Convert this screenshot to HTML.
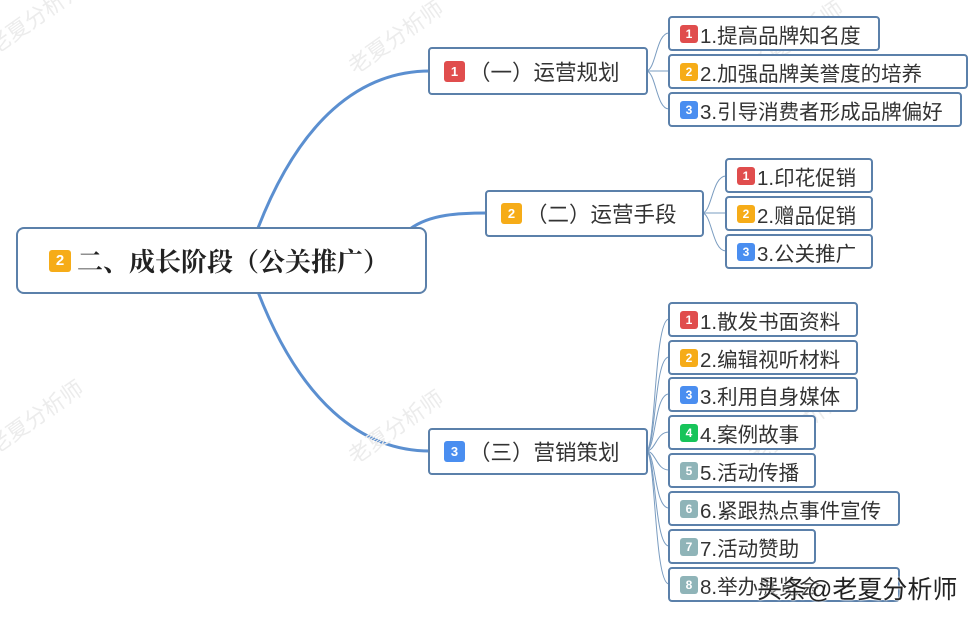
<!DOCTYPE html>
<html><head><meta charset="utf-8"><style>
body{margin:0;width:979px;height:619px;background:#fff;position:relative;overflow:hidden;font-family:"Liberation Sans","Noto Sans CJK SC",sans-serif;}
.b{position:absolute;box-sizing:border-box;border:2px solid #5b80aa;border-radius:4px;background:#fff;color:#333;display:flex;align-items:center;white-space:nowrap;}
.leaf{font-size:20.5px;padding-left:10px;}
.bd{display:inline-block;width:18px;height:18px;border-radius:3px;color:#fff;font-size:12px;font-weight:bold;text-align:center;line-height:18px;margin-right:2px;font-family:"Liberation Sans",sans-serif;}
.r{background:#e04d4d}.o{background:#f6ac18}.u{background:#4a8ef0}.g{background:#17c45a}.s{background:#8fb4b8}
.l1{font-size:21.5px;padding-left:14px;}
.l1 .bd{width:21px;height:21px;line-height:21px;font-size:13px;margin-right:4px;}
.wm{position:absolute;color:#ececec;font-size:22px;transform:rotate(-35deg);white-space:nowrap;}
</style></head><body>
<svg width="979" height="619" style="position:absolute;left:0;top:0">
<g fill="none" stroke="#5b8fd0">
<path d="M258 228 C300 120 360 71 430 71" stroke-width="3"/>
<path d="M410 229 C430 214 460 213 487 213" stroke-width="3"/>
<path d="M258 292 C300 400 360 451 430 451" stroke-width="3"/>
</g>
<g fill="none" stroke="#7a9cc0" stroke-width="1">
<path d="M646 71 C656 71 656 33 669 33"/><path d="M646 71 L669 71"/><path d="M646 71 C656 71 656 109 669 109"/>
<path d="M702 213 C712 213 712 176 726 176"/><path d="M702 213 L726 213"/><path d="M702 213 C712 213 712 251 726 251"/>
<path d="M646 451 C656 451 654 319 669 319"/><path d="M646 451 C656 451 654 357 669 357"/><path d="M646 451 C656 451 654 394 669 394"/><path d="M646 451 C656 451 656 432 669 432"/><path d="M646 451 C656 451 656 470 669 470"/><path d="M646 451 C656 451 654 508 669 508"/><path d="M646 451 C656 451 654 546 669 546"/><path d="M646 451 C656 451 654 584 669 584"/>
</g></svg>
<div class="wm" style="left:-20px;top:0px">老夏分析师</div>
<div class="wm" style="left:340px;top:20px">老夏分析师</div>
<div class="wm" style="left:740px;top:20px">老夏分析师</div>
<div class="wm" style="left:-20px;top:400px">老夏分析师</div>
<div class="wm" style="left:340px;top:410px">老夏分析师</div>
<div class="wm" style="left:740px;top:410px">老夏分析师</div>

<div class="b" style="left:16px;top:227px;width:411px;height:67px;padding-left:31px;font-size:26px;font-weight:bold;font-family:'Liberation Serif','Noto Serif CJK SC',serif;color:#222;border-radius:8px"><span class="bd o" style="width:22px;height:22px;line-height:22px;font-size:15px;margin-right:6px;font-family:'Liberation Sans',sans-serif">2</span>二、成长阶段（公关推广）</div>

<div class="b l1" style="left:428px;top:47px;width:220px;height:48px"><span class="bd r">1</span>（一）运营规划</div>
<div class="b l1" style="left:485px;top:190px;width:219px;height:47px"><span class="bd o">2</span>（二）运营手段</div>
<div class="b l1" style="left:428px;top:428px;width:220px;height:47px"><span class="bd u">3</span>（三）营销策划</div>

<div class="b leaf" style="left:668px;top:16px;width:212px;height:35px"><span class="bd r">1</span>1.提高品牌知名度</div>
<div class="b leaf" style="left:668px;top:54px;width:300px;height:35px"><span class="bd o">2</span>2.加强品牌美誉度的培养</div>
<div class="b leaf" style="left:668px;top:92px;width:294px;height:35px"><span class="bd u">3</span>3.引导消费者形成品牌偏好</div>

<div class="b leaf" style="left:725px;top:158px;width:148px;height:35px"><span class="bd r">1</span>1.印花促销</div>
<div class="b leaf" style="left:725px;top:196px;width:148px;height:35px"><span class="bd o">2</span>2.赠品促销</div>
<div class="b leaf" style="left:725px;top:234px;width:148px;height:35px"><span class="bd u">3</span>3.公关推广</div>

<div class="b leaf" style="left:668px;top:302px;width:190px;height:35px"><span class="bd r">1</span>1.散发书面资料</div>
<div class="b leaf" style="left:668px;top:340px;width:190px;height:35px"><span class="bd o">2</span>2.编辑视听材料</div>
<div class="b leaf" style="left:668px;top:377px;width:190px;height:35px"><span class="bd u">3</span>3.利用自身媒体</div>
<div class="b leaf" style="left:668px;top:415px;width:148px;height:35px"><span class="bd g">4</span>4.案例故事</div>
<div class="b leaf" style="left:668px;top:453px;width:148px;height:35px"><span class="bd s">5</span>5.活动传播</div>
<div class="b leaf" style="left:668px;top:491px;width:232px;height:35px"><span class="bd s">6</span>6.紧跟热点事件宣传</div>
<div class="b leaf" style="left:668px;top:529px;width:148px;height:35px"><span class="bd s">7</span>7.活动赞助</div>
<div class="b leaf" style="left:668px;top:567px;width:232px;height:35px"><span class="bd s">8</span>8.举办展览会</div>
<div style="position:absolute;left:757px;top:570px;font-size:25px;color:#222;text-shadow:0 0 2px #fff,0 0 2px #fff;white-space:nowrap">头条@老夏分析师</div>
</body></html>
